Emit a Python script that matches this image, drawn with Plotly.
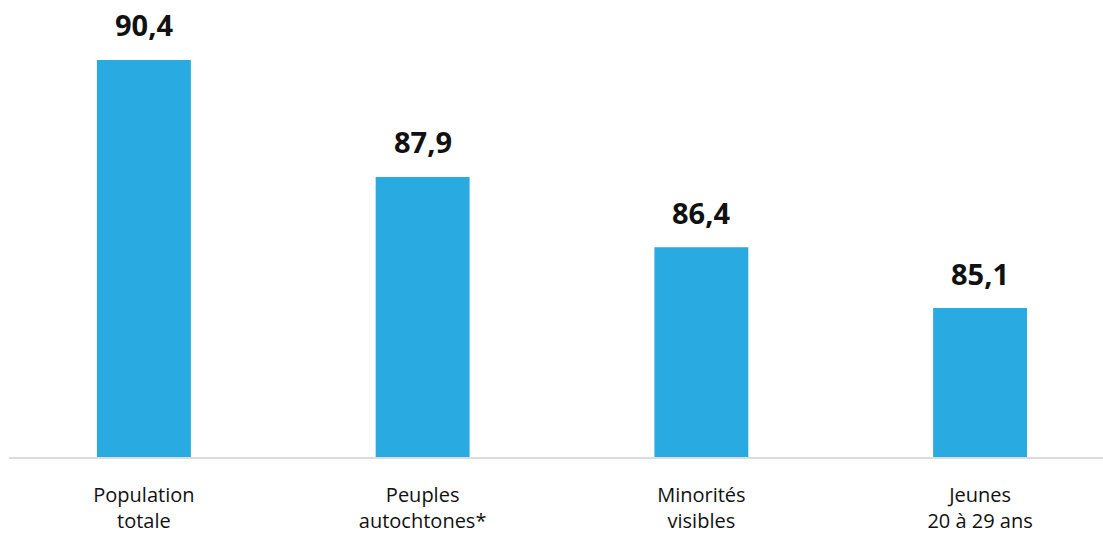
import plotly.graph_objects as go

categories = ["Population<br>totale", "Peuples<br>autochtones*", "Minorités<br>visibles", "Jeunes<br>20 à 29 ans"]
values = [90.4, 87.9, 86.4, 85.1]
value_labels = ["90,4", "87,9", "86,4", "85,1"]

BAR_COLOR = "#29ABE2"

fig = go.Figure()
fig.add_trace(go.Bar(
    x=list(range(len(categories))),
    y=values,
    marker=dict(color=BAR_COLOR, line=dict(width=0)),
    width=0.337,
    hoverinfo="skip",
))

for i, (v, lab) in enumerate(zip(values, value_labels)):
    fig.add_annotation(
        x=i, y=v, text=f"<b>{lab}</b>", showarrow=False,
        xref="x", yref="y", yanchor="middle", yshift=35,
        font=dict(family="Open Sans", size=29, color="#111111"),
    )

fig.update_layout(
    width=1103, height=535,
    margin=dict(l=9, r=0, t=0, b=78),
    paper_bgcolor="white", plot_bgcolor="white",
    showlegend=False,
    font=dict(family="Open Sans", color="#111111"),
    xaxis=dict(
        tickmode="array",
        tickvals=list(range(len(categories))),
        ticktext=categories,
        range=[-0.484, 3.441],
        showgrid=False, zeroline=False,
        showline=True, linecolor="#dcdcdc", linewidth=2,
        ticks="", tickfont=dict(family="Open Sans", size=20, color="#111111", weight=500),
        ticklabelstandoff=19,
        automargin=False,
    ),
    yaxis=dict(
        range=[81.92, 91.68],
        visible=False, showgrid=False, zeroline=False,
    ),
)

fig.write_html("out.html")
